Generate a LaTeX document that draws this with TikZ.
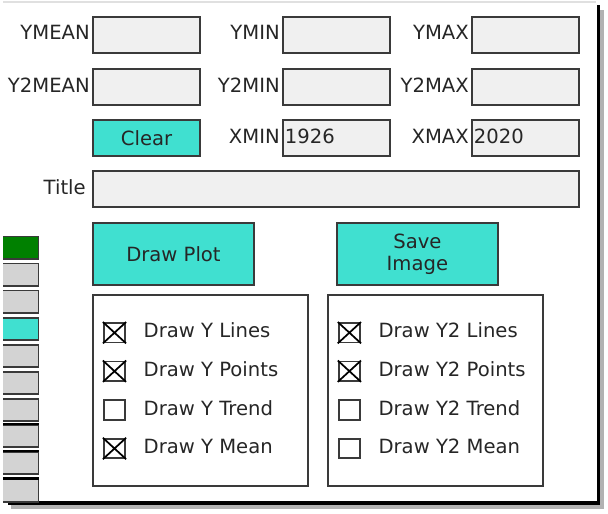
\documentclass[tikz,border=0pt]{standalone}
\usepackage{fontspec}
\setmainfont{DejaVu Sans}
\usetikzlibrary{positioning}
\definecolor{turq}{HTML}{40E0D0}
\definecolor{entrybg}{HTML}{F0F0F0}
\definecolor{listbg}{HTML}{D3D3D3}
\definecolor{listsel}{HTML}{008000}
\definecolor{edge}{HTML}{3A3A3A}

\begin{document}
\begin{tikzpicture}[x=0.75pt,y=-0.75pt,font=\fontsize{14.7}{16.5}\selectfont,
	lbl/.style={inner sep=0pt,text height=10.5pt,text depth=3pt,text=black!85},
	entry/.style={draw=edge,line width=1.2pt,fill=entrybg,minimum width=80.5pt,minimum height=27.3pt,inner sep=0pt},
	btn/.style={draw=edge,line width=1.2pt,fill=turq,inner sep=0pt,align=center,text=black!85},
	group/.style={draw=edge,line width=1.2pt,fill=white,minimum width=161.5pt,minimum height=143.5pt,inner sep=0pt},
	chk/.style={draw=edge,line width=1.4pt,fill=white,minimum width=16pt,minimum height=14.6pt,inner sep=0pt},
	strip/.style={draw=edge,line width=1.2pt,fill=listbg,minimum width=33.5pt,minimum height=16.8pt,inner sep=0pt}]
			\useasboundingbox (0,0) rectangle (608,514);
			
			% Window
			\fill[white] (0,0) rectangle (608,514);
			\draw[black!12,line width=1.5pt] (3,2) -- (596,2);
			\draw[black!30,line width=3pt] (601.5,10) -- (601.5,506.5) -- (11,506.5);
			\draw[black,line width=2.4pt] (598.5,5) -- (598.5,503) -- (8,503);
			
			% Side list
			\begin{scope}
				\clip (3,0) rectangle (597,502);
				\node[strip,fill=listsel] (s0) at (16,247.5) {};
				\node[strip] (s1) at (16,274.5) {};
				\node[strip] (s2) at (16,301.5) {};
				\node[strip,fill=turq] (s3) at (16,329) {};
				\node[strip] (s4) at (16,356) {};
				\node[strip] (s5) at (16,383) {};
				\node[strip] (s6) at (16,410) {};
				\node[strip] (s7) at (16,436) {};
				\node[strip] (s8) at (16,463) {};
				\node[strip] (s9) at (16,490.5) {};
				\draw[line width=1.6pt] (s7.north west) -- (s7.north east);
				\draw[line width=1.6pt] (s8.north west) -- (s8.north east);
				\draw[line width=1.6pt] (s9.north west) -- (s9.north east);
			\end{scope}
			
			% Entries
			\node[entry] (ymean) at (146.5,35) {};
			\node[entry] (ymin) at (336.5,35) {};
			\node[entry] (ymax) at (525.5,35) {};
			\node[entry] (y2mean) at (146.5,87) {};
			\node[entry] (y2min) at (336.5,87) {};
			\node[entry] (y2max) at (525.5,87) {};
			\node[btn,minimum width=80.5pt,minimum height=27.3pt] (clear) at (146.5,138) {Clear};
			\node[entry] (xmin) at (336.5,138) {};
			\node[entry] (xmax) at (525.5,138) {};
			\node[entry,minimum width=364.8pt] (title) at (336,189) {};
			\node[lbl,right=2pt of xmin.west] (xminval) {1926};
			\node[lbl,right=2pt of xmax.west] (xmaxval) {2020};
			
			% Labels
			\node[lbl,left=1.5pt of ymean] (lymean) {YMEAN};
			\node[lbl,left=1.5pt of ymin] (lymin) {YMIN};
			\node[lbl,left=1.5pt of ymax] (lymax) {YMAX};
			\node[lbl,left=1.5pt of y2mean] (ly2mean) {Y2MEAN};
			\node[lbl,left=1.5pt of y2min] (ly2min) {Y2MIN};
			\node[lbl,left=1.5pt of y2max] (ly2max) {Y2MAX};
			\node[lbl,left=1.5pt of xmin] (lxmin) {XMIN};
			\node[lbl,left=1.5pt of xmax] (lxmax) {XMAX};
			\node[lbl,left=4.5pt of title] (ltitle) {Title};
			
			% Buttons
			\node[btn,minimum width=121pt,minimum height=46.8pt] (plot) at (173.5,254) {Draw Plot};
			\node[btn,minimum width=121pt,minimum height=46.8pt] (save) at (417.4,254) {Save\\Image};
			
			% Check boxes
			\node[group] (ybox) at (200.5,390.5) {};
			\node[group] (y2box) at (435.5,390.5) {};
			\node[chk] (c1) at (114.5,332.7) {};
			\node[chk] (c2) at (114.5,371.2) {};
			\node[chk] (c3) at (114.5,410) {};
			\node[chk] (c4) at (114.5,448.5) {};
			\node[chk] (d1) at (349.4,332.7) {};
			\node[chk] (d2) at (349.4,371.2) {};
			\node[chk] (d3) at (349.4,410) {};
			\node[chk] (d4) at (349.4,448.5) {};
			\draw[line width=1.3pt] (c1.north west) -- (c1.south east) (c1.north east) -- (c1.south west);
			\draw[line width=1.3pt] (c2.north west) -- (c2.south east) (c2.north east) -- (c2.south west);
			\draw[line width=1.3pt] (c4.north west) -- (c4.south east) (c4.north east) -- (c4.south west);
			\draw[line width=1.3pt] (d1.north west) -- (d1.south east) (d1.north east) -- (d1.south west);
			\draw[line width=1.3pt] (d2.north west) -- (d2.south east) (d2.north east) -- (d2.south west);
			\node[lbl,right=13pt of c1] (t1) {Draw Y Lines};
			\node[lbl,right=13pt of c2] (t2) {Draw Y Points};
			\node[lbl,right=13pt of c3] (t3) {Draw Y Trend};
			\node[lbl,right=13pt of c4] (t4) {Draw Y Mean};
			\node[lbl,right=13pt of d1] (u1) {Draw Y2 Lines};
			\node[lbl,right=13pt of d2] (u2) {Draw Y2 Points};
			\node[lbl,right=13pt of d3] (u3) {Draw Y2 Trend};
			\node[lbl,right=13pt of d4] (u4) {Draw Y2 Mean};
		\end{tikzpicture}
\end{document}
